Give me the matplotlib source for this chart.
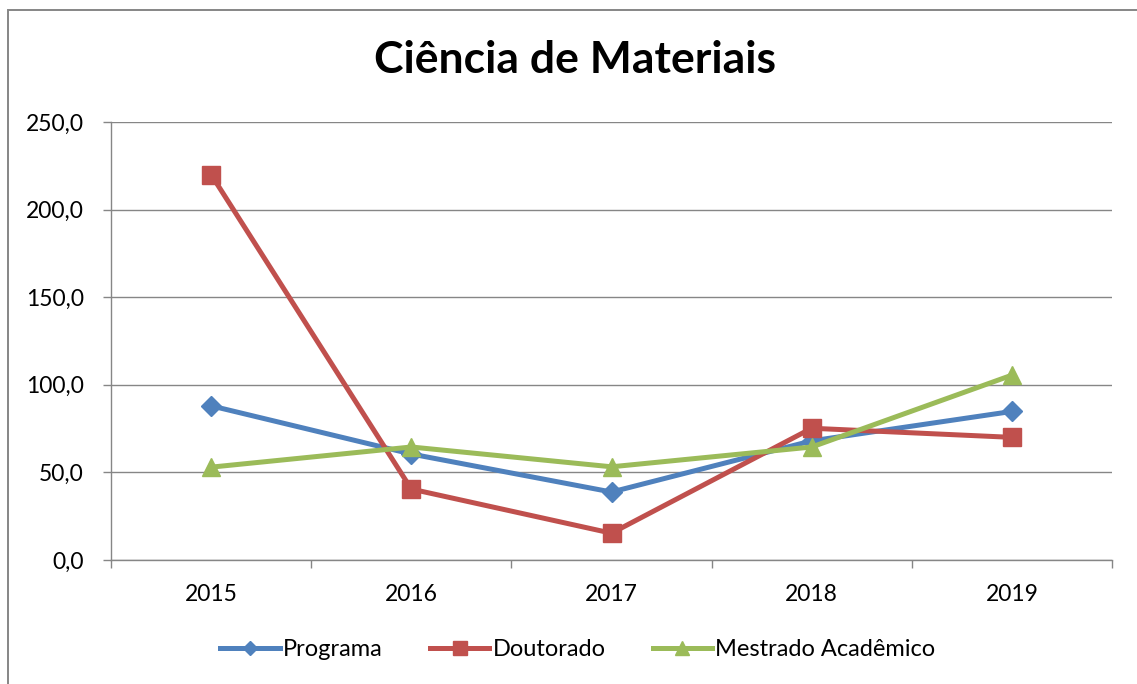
import matplotlib
matplotlib.use("Agg")
import matplotlib.pyplot as plt
from matplotlib.patches import Rectangle
from matplotlib.ticker import FuncFormatter, FixedLocator

years = ["2015", "2016", "2017", "2018", "2019"]
programa = [88.0, 60.5, 38.8, 68.0, 84.8]
doutorado = [220.0, 40.5, 15.3, 75.2, 70.0]
mestrado = [53.0, 64.5, 53.2, 64.5, 105.5]

plt.rcParams['font.family'] = ['Lato', 'DejaVu Sans']

W, H = 1137, 684
fig = plt.figure(figsize=(W/100, H/100), dpi=100)
fig.patches.append(Rectangle((8/W, -0.01), 1.05, (H-10)/H + 0.01, transform=fig.transFigure,
                             fill=False, edgecolor='#868686', linewidth=1.4))

ax = fig.add_axes([111/W, (H-560)/H, 1001/W, 438/H])
x = list(range(len(years)))
lw = 3.6
ax.plot(x, programa, color='#4F81BD', lw=lw, marker='D', ms=10, label='Programa', zorder=3)
ax.plot(x, doutorado, color='#C0504D', lw=lw, marker='s', ms=13, label='Doutorado', zorder=3)
ax.plot(x, mestrado, color='#9BBB59', lw=lw, marker='^', ms=13, label='Mestrado Acadêmico', zorder=3)

ax.set_xlim(-0.5, 4.5)
ax.set_ylim(0, 250)
ax.set_yticks([0, 50, 100, 150, 200, 250])
ax.yaxis.set_major_formatter(FuncFormatter(lambda v, p: f"{v:.1f}".replace('.', ',')))
ax.set_xticks(x)
ax.set_xticklabels(years)
ax.xaxis.set_minor_locator(FixedLocator([-0.5, 0.5, 1.5, 2.5, 3.5, 4.5]))
ax.tick_params(axis='x', which='major', length=0, labelsize=16.5, pad=17)
ax.tick_params(axis='x', which='minor', length=6, color='#868686', width=1)
ax.tick_params(axis='y', length=6, color='#868686', width=1, labelsize=16.5, pad=13.5)
ax.grid(axis='y', color='#868686', lw=1)
ax.set_axisbelow(True)
for s in ['top', 'right']:
    ax.spines[s].set_visible(False)
for s in ['left', 'bottom']:
    ax.spines[s].set_color('#868686')
    ax.spines[s].set_linewidth(1)

fig.text(575/W, 1 - 60/H, "Ciência de Materiais", ha='center', va='center', fontsize=32, fontweight='bold')

leg = fig.legend(loc='center', bbox_to_anchor=(578/W, 1 - 650/H), ncol=3, frameon=False,
                 fontsize=17, handlelength=2.5, handletextpad=0.15, columnspacing=2.0,
                 markerscale=0.75)

fig.savefig("out.png", dpi=100)
